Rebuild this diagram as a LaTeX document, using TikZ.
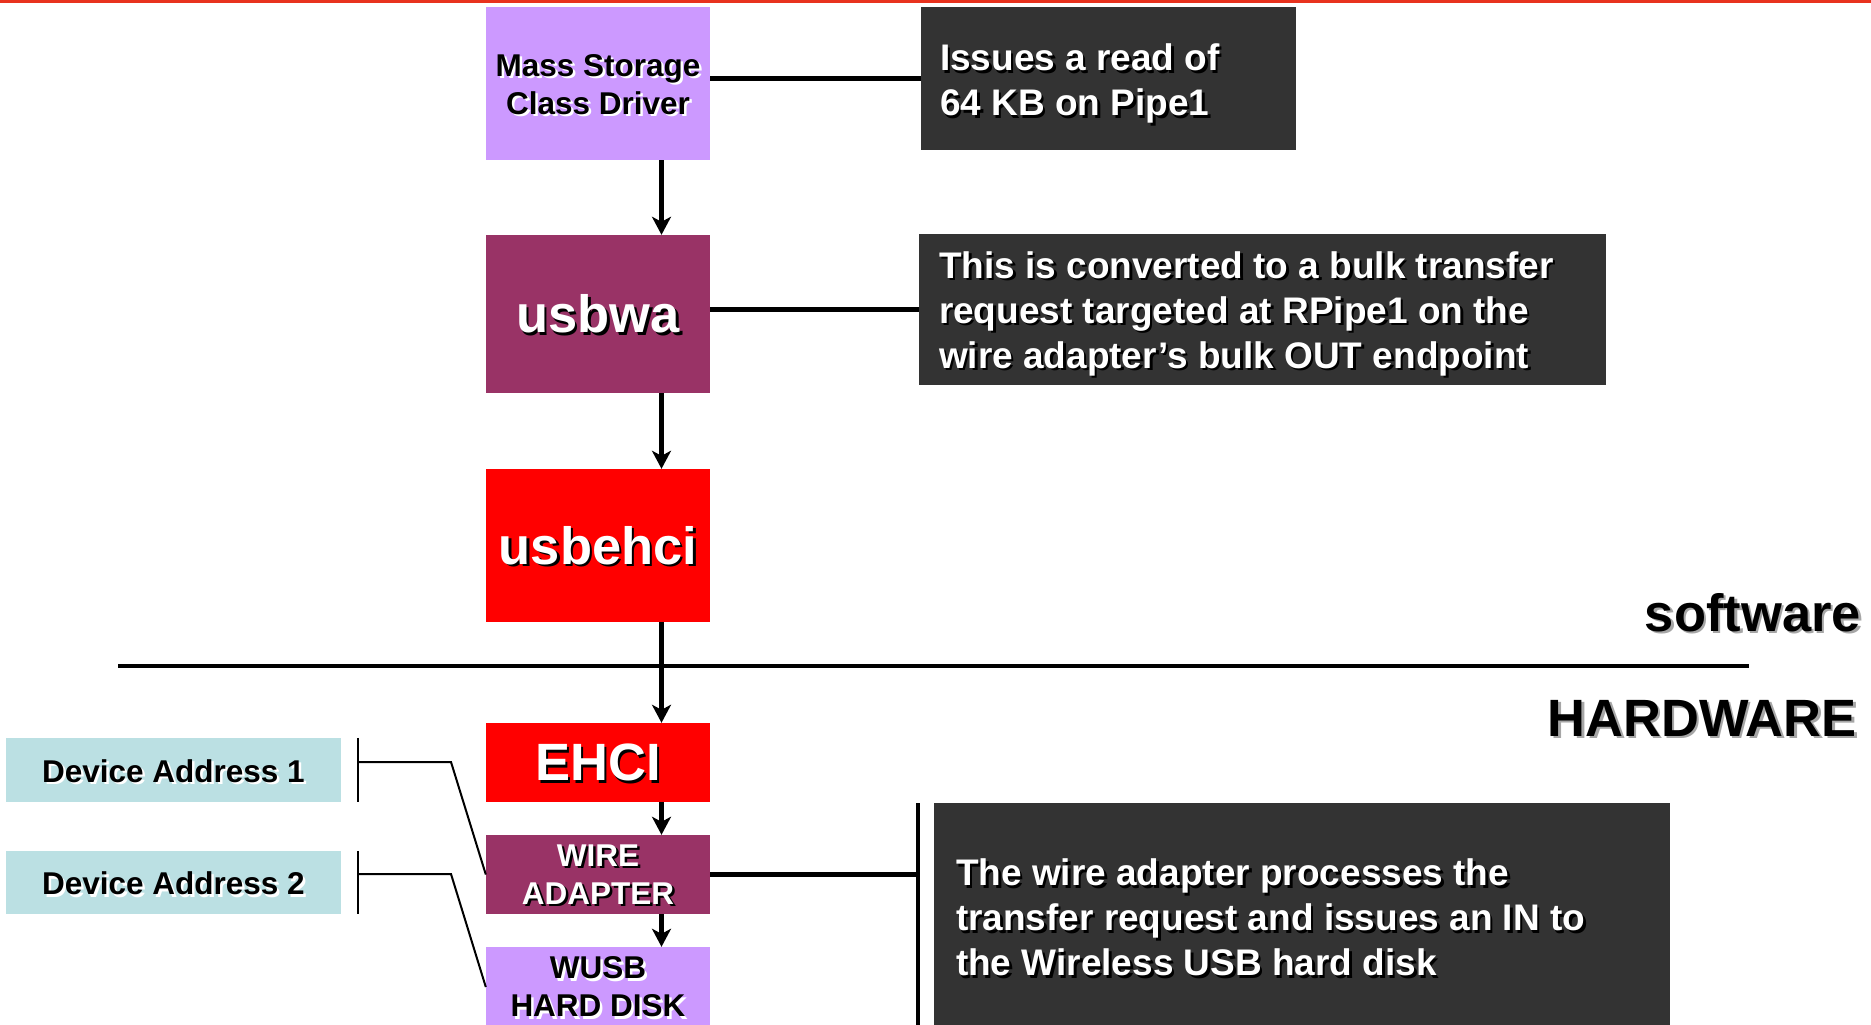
\documentclass[tikz,border=0pt]{standalone}
\usepackage{fontspec}
\setmainfont{Liberation Sans}
\usetikzlibrary{arrows.meta}
\definecolor{lav}{HTML}{CC99FF}
\definecolor{plum}{HTML}{993366}
\definecolor{darkbox}{HTML}{333333}
\definecolor{devc}{HTML}{BBE0E3}
\definecolor{topred}{HTML}{E8321E}
\newcommand{\shnode}[5]{%
  \node[#3,text=#4,xshift=2.5pt,yshift=-2.5pt] at (#2) {#5};
  \node[#3] (#1) at (#2) {#5};}
\begin{document}
\begin{tikzpicture}[x=1pt,y=-1pt,
  box/.style={draw=none, inner sep=0pt, anchor=center},
  big/.style={font=\bfseries\fontsize{52.5}{60}\selectfont, inner sep=0pt, align=center},
  mid/.style={font=\bfseries\fontsize{31.5}{38}\selectfont, inner sep=0pt, align=center},
  dtxt/.style={font=\bfseries\fontsize{37}{45}\selectfont, inner sep=0pt, align=left, anchor=west, text=white},
  conn/.style={line width=5pt},
  arr/.style={line width=4.5pt, -{Stealth[length=18pt,width=19pt,inset=5pt]}},
  thinl/.style={line width=2pt},
]
\useasboundingbox (0,0) rectangle (1871,1025);
\fill[white] (0,0) rectangle (1871,1025);
\draw[topred, line width=3pt] (0,1.5) -- (1871,1.5);

% boxes
\node[box, fill=lav, minimum width=224pt, minimum height=153pt] (ms) at (598,83.5) {};
\node[box, fill=plum, minimum width=224pt, minimum height=158pt] (usbwa) at (598,314) {};
\node[box, fill=red, minimum width=224pt, minimum height=153pt] (usbehci) at (598,545.5) {};
\node[box, fill=red, minimum width=224pt, minimum height=79pt] (ehci) at (598,762.5) {};
\node[box, fill=plum, minimum width=224pt, minimum height=79pt] (wa) at (598,874.5) {};
\node[box, fill=lav, minimum width=224pt, minimum height=80pt] (wusb) at (598,987) {};
\node[box, fill=devc, minimum width=335pt, minimum height=64pt] (dev1) at (173.5,770) {};
\node[box, fill=devc, minimum width=335pt, minimum height=63pt] (dev2) at (173.5,882.5) {};
\node[box, fill=darkbox, minimum width=375pt, minimum height=143pt] (d1) at (1108.5,78.5) {};
\node[box, fill=darkbox, minimum width=687pt, minimum height=151pt] (d2) at (1262.5,309.5) {};
\node[box, fill=darkbox, minimum width=736pt, minimum height=223pt] (d3) at (1302,914.5) {};

% texts
\shnode{tms}{ms.center}{mid,yshift=-1pt}{white}{Mass Storage\\Class Driver}
\shnode{twa}{usbwa.center}{big,text=white}{black}{usbwa}
\shnode{tehci}{usbehci.center}{big,text=white}{black}{usbehci}
\shnode{tEHCI}{ehci.center}{big,text=white}{black}{EHCI}
\shnode{twire}{wa.center}{mid,text=white}{black}{WIRE\\ADAPTER}
\shnode{twusb}{wusb.center}{mid}{white}{WUSB\\HARD DISK}
\shnode{tdev1}{dev1.center}{mid,yshift=-1pt}{white}{Device Address 1}
\shnode{tdev2}{dev2.center}{mid,yshift=-1pt}{white}{Device Address 2}
\shnode{td1}{[xshift=19pt,yshift=-5pt]d1.west}{dtxt}{black}{Issues a read of\\64 KB on Pipe1}
\shnode{td2}{[xshift=20pt,yshift=-4pt]d2.west}{dtxt}{black}{This is converted to a bulk transfer\\request targeted at RPipe1 on the\\wire adapter’s bulk OUT endpoint}
\shnode{td3}{[xshift=22pt,yshift=-3pt]d3.west}{dtxt}{black}{The wire adapter processes the\\transfer request and issues an IN to\\the Wireless USB hard disk}
\shnode{tsw}{1861,631}{big,anchor=base east}{black!35}{software}
\shnode{thw}{1857,736}{big,anchor=base east}{black!35}{HARDWARE}

% separator
\coordinate (sepl) at (118,666);
\coordinate (sepr) at (1749,666);
\draw[line width=4pt] (sepl) -- (sepr);

% connectors
\draw[conn] (d1.west -| ms.east) -- (d1.west);
\draw[conn] (d2.west -| usbwa.east) -- (d2.west);
\coordinate (bart) at (918,803);
\coordinate (barb) at (918,1025);
\draw[line width=3.5pt] (bart) -- (barb);
\draw[conn] (wa.east) -- (wa.east -| bart);

% arrows
\coordinate (ax) at (661.5,0);
\draw[arr] (ax |- ms.south) -- (ax |- usbwa.north);
\draw[arr] (ax |- usbwa.south) -- (ax |- usbehci.north);
\draw[arr] (ax |- usbehci.south) -- (ax |- ehci.north);
\draw[arr] (ax |- ehci.south) -- (ax |- wa.north);
\draw[arr] (ax |- wa.south) -- (ax |- wusb.north);

% brackets
\coordinate (k1) at (358,0);
\draw[thinl] (dev1.north -| k1) -- (dev1.south -| k1);
\draw[thinl] (dev2.north -| k1) -- (dev2.south -| k1);
\coordinate (b1) at (358,762);
\coordinate (n1) at (451,762);
\coordinate (b2) at (358,874);
\coordinate (n2) at (451,874);
\draw[thinl] (b1) -- (n1) -- (wa.west);
\draw[thinl] (b2) -- (n2) -- (wusb.west);
\end{tikzpicture}
\end{document}
